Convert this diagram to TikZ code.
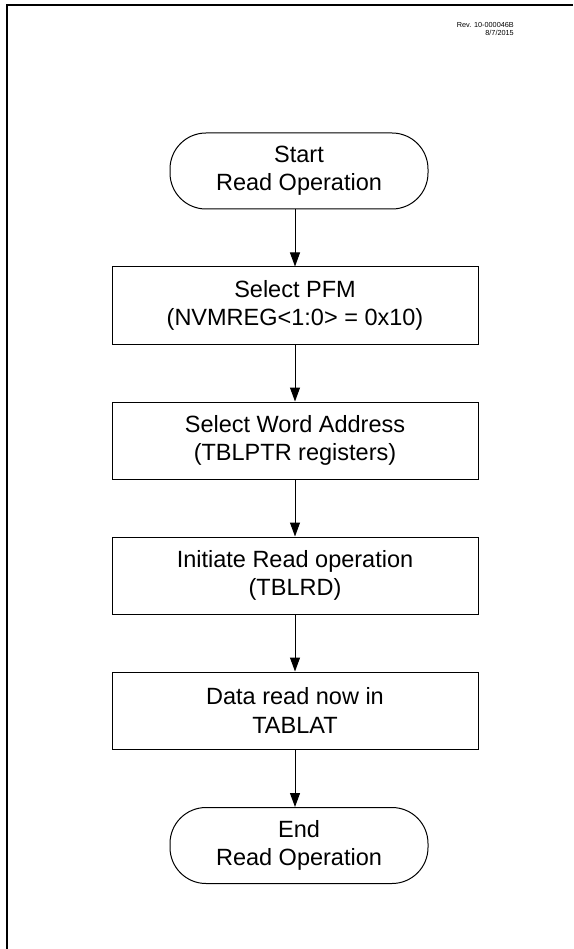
\documentclass[tikz,border=0pt]{standalone}
\usepackage{fontspec}
\setmainfont{Liberation Sans}
\usetikzlibrary{arrows.meta}
\begin{document}
\begin{tikzpicture}[x=1pt,y=-1pt,
  every node/.style={inner sep=0pt,align=center,font=\fontsize{23.5}{28.3}\selectfont},
  procbox/.style={draw,line width=1pt,minimum width=366pt,minimum height=77pt},
  termbox/.style={draw,line width=1pt,minimum width=258pt,minimum height=76pt,rounded corners=36pt},
  arr/.style={line width=1pt,-{Triangle[length=14pt,width=10pt]}}]
\useasboundingbox (0,0) rectangle (573,949);
\draw[line width=1.6pt] (6.8,949) -- (6.8,5) -- (573,5);
\node[anchor=north east,font=\fontsize{7.3}{7.8}\selectfont,align=right] (rev) at (514,22.6) {Rev. 10-000046B\\8/7/2015};
\node[termbox] (start) at (299,171) {Start\\Read Operation};
\node[procbox] (b1) at (295,305.5) {Select PFM\\(NVMREG<1:0> = 0x10)};
\node[procbox] (b2) at (295,440.5) {Select Word Address\\(TBLPTR registers)};
\node[procbox] (b3) at (295,575.5) {Initiate Read operation\\(TBLRD)};
\node[procbox] (b4) at (295,710.5) {Data read now in\\TABLAT};
\node[termbox] (end) at (299,845.5) {End\\Read Operation};
\draw[arr] (b1.north |- start.south) -- (b1.north);
\draw[arr] (b1.south) -- (b2.north);
\draw[arr] (b2.south) -- (b3.north);
\draw[arr] (b3.south) -- (b4.north);
\draw[arr] (b4.south) -- (b4.south |- end.north);
\end{tikzpicture}
\end{document}
